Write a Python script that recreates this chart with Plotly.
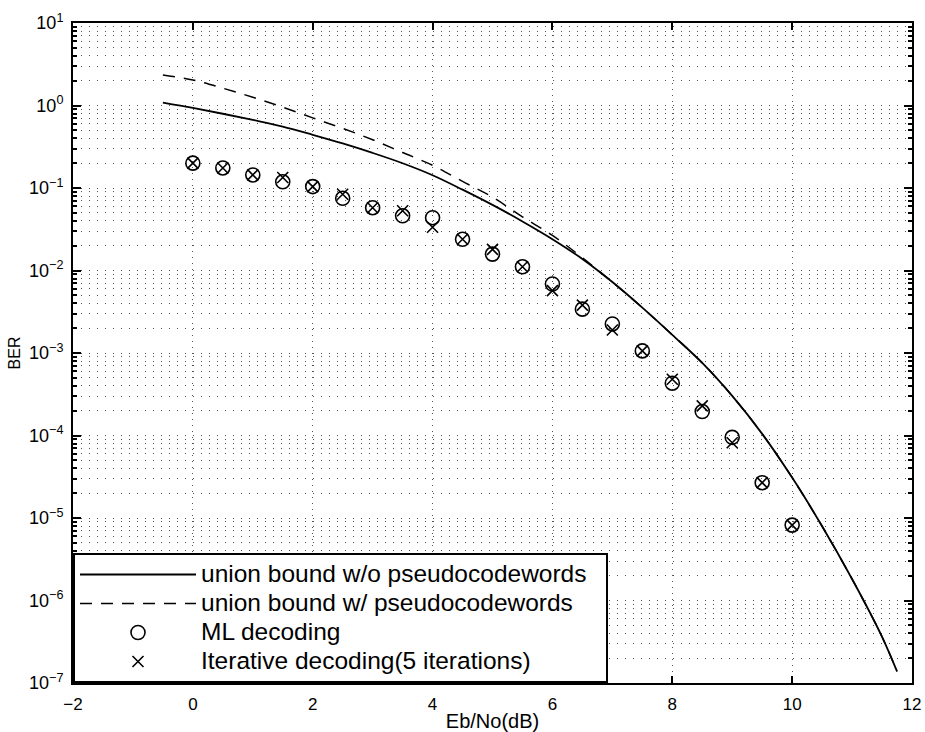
import plotly.graph_objects as go

# Union bound curves (Eb/No in dB, log10 BER)
bound_x = [-0.5, 0, 0.5, 1, 1.5, 2, 2.5, 3, 3.5, 4, 4.5, 5, 5.5, 6, 6.5, 7,
           7.5, 8, 8.5, 9, 9.5, 10, 10.5, 11, 11.5, 11.75]
bound_wo_log = [0.035, -0.03, -0.10, -0.175, -0.255, -0.355, -0.46, -0.575,
                -0.70, -0.845, -1.02, -1.205, -1.405, -1.62, -1.86, -2.14,
                -2.45, -2.78, -3.12, -3.52, -3.98, -4.51, -5.10, -5.74, -6.44,
                -6.86]
bound_w_log = [0.37, 0.31, 0.21, 0.10, -0.02, -0.15, -0.277, -0.415, -0.57,
               -0.725, -0.92, -1.11, -1.35, -1.575, -1.845, -2.14, -2.45,
               -2.78, -3.12, -3.52, -3.98, -4.51, -5.10, -5.74, -6.44, -6.86]
bound_wo = [10 ** v for v in bound_wo_log]
bound_w = [10 ** v for v in bound_w_log]

# Simulation points
sim_x = [0, 0.5, 1, 1.5, 2, 2.5, 3, 3.5, 4, 4.5, 5, 5.5, 6, 6.5, 7, 7.5, 8,
         8.5, 9, 9.5, 10]
ml_ber = [0.20, 0.175, 0.144, 0.119, 0.104, 0.075, 0.0577, 0.046, 0.0436,
          0.0239, 0.0158, 0.0111, 0.00686, 0.0034, 0.00225, 0.00106, 0.00043,
          0.000195, 0.000095, 0.0000268, 0.0000082]
it_ber = [0.20, 0.175, 0.144, 0.134, 0.104, 0.084, 0.0577, 0.053, 0.0334,
          0.0239, 0.018, 0.0111, 0.0057, 0.0038, 0.0019, 0.00106, 0.00048,
          0.000229, 0.0000818, 0.0000268, 0.0000082]

legend_names = ["union bound w/o pseudocodewords",
                "union bound w/ pseudocodewords",
                "ML decoding",
                "Iterative decoding(5 iterations)"]

x_ticks = [-2, 0, 2, 4, 6, 8, 10, 12]
y_tickvals = [1e1, 1e0, 1e-1, 1e-2, 1e-3, 1e-4, 1e-5, 1e-6, 1e-7]
y_ticktext = ["10<sup>1</sup>", "10<sup>0</sup>", "10<sup>\u22121</sup>",
              "10<sup>\u22122</sup>", "10<sup>\u22123</sup>",
              "10<sup>\u22124</sup>", "10<sup>\u22125</sup>",
              "10<sup>\u22126</sup>", "10<sup>\u22127</sup>"]

FONT = "Liberation Sans, Arial, sans-serif"


def leg(name, pad=0):
    return '<span style="font-size:24.5px">' + name + "\u00a0" * pad + "</span>"


fig = go.Figure()
fig.add_trace(go.Scatter(x=bound_x, y=bound_wo, mode="lines",
                         name=leg(legend_names[0], 2),
                         line=dict(color="black", width=1.8, shape="spline")))
fig.add_trace(go.Scatter(x=bound_x, y=bound_w, mode="lines",
                         name=leg(legend_names[1]),
                         line=dict(color="black", width=1.5, dash="12px,9px",
                                   shape="spline")))
fig.add_trace(go.Scatter(x=sim_x, y=ml_ber, mode="markers",
                         name=leg(legend_names[2]),
                         marker=dict(symbol="circle-open", size=14, color="black",
                                     line=dict(width=1.6, color="black"))))
fig.add_trace(go.Scatter(x=sim_x, y=it_ber, mode="markers",
                         name=leg(legend_names[3]),
                         marker=dict(symbol="x-thin-open", size=11, color="black",
                                     line=dict(width=1.6, color="black"))))

fig.update_layout(
    width=925, height=732,
    margin=dict(l=73, r=13, t=23, b=49, autoexpand=False),
    paper_bgcolor="white", plot_bgcolor="white",
    font=dict(family=FONT, color="black", size=17),
    showlegend=True,
    legend=dict(x=0, y=0, xanchor="left", yanchor="bottom",
                bgcolor="white", bordercolor="black", borderwidth=2,
                font=dict(size=20, family=FONT, color="black"),
                itemwidth=116, tracegroupgap=0),
)
fig.update_xaxes(
    range=[-2, 12], tickvals=x_ticks, ticks="inside", ticklen=7,
    tickcolor="black", tickwidth=1.5, automargin=False,
    showline=True, linecolor="black", linewidth=2, mirror="ticks",
    showgrid=True, gridcolor="#555555", gridwidth=1, griddash="1px,5px",
    zeroline=False, ticklabelstandoff=5,
    tickfont=dict(size=17),
    title=dict(text="Eb/No(dB)", font=dict(size=20), standoff=1),
)
fig.update_yaxes(
    type="log", range=[-7, 1], tickvals=y_tickvals, ticktext=y_ticktext,
    ticks="inside", ticklen=8, tickcolor="black", tickwidth=1.5,
    automargin=False,
    showline=True, linecolor="black", linewidth=2, mirror="ticks",
    showgrid=True, gridcolor="#555555", gridwidth=1, griddash="1px,7px",
    zeroline=False, ticklabelstandoff=4,
    minor=dict(ticks="inside", ticklen=4, tickcolor="black", showgrid=True,
               gridcolor="#555555", gridwidth=1, griddash="1px,7px", dtick="D1"),
    tickfont=dict(size=18),
    title=dict(text="BER", font=dict(size=16), standoff=4),
)

fig.write_html("out.html")
